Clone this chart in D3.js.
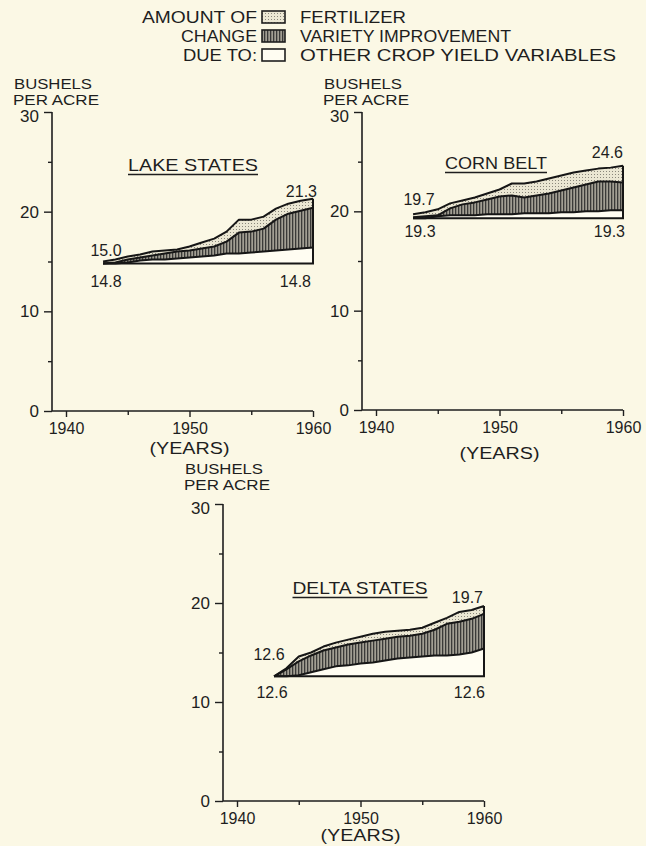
<!DOCTYPE html>
<html><head><meta charset="utf-8">
<script src="https://cdn.jsdelivr.net/npm/d3@7"></script>
<style>html,body{margin:0;padding:0;background:#fbf8e5;} text{font-family:"Liberation Sans",Arial,sans-serif;fill:#1e1e1e;}</style>
</head><body>
<svg id="chart" width="646" height="846"></svg>
<script>
// ---------------- DATA ----------------
const years = [1943,1944,1945,1946,1947,1948,1949,1950,1951,1952,1953,1954,1955,1956,1957,1958,1959,1960];
const legendLabels = ["FERTILIZER","VARIETY IMPROVEMENT","OTHER CROP YIELD VARIABLES"];
const legendLead = ["AMOUNT OF","CHANGE","DUE TO:"];
const yTicks = [0,10,20,30];
const yMinorTicks = [5,15,25];
const xTicks = [1940,1950,1960];
const xMinorTicks = [1945,1955];

// Lake States (cumulative level reached by each layer, bushels per acre)
const lakeBase = 14.8;
const lakeOther   = [14.8,14.8,14.9,15.1,15.2,15.2,15.3,15.4,15.5,15.6,15.8,15.8,15.9,16.0,16.1,16.2,16.3,16.4];
const lakeVariety = [14.8,14.9,15.2,15.4,15.6,15.8,16.0,16.1,16.3,16.5,17.0,17.9,18.0,18.3,19.2,19.8,20.1,20.4];
const lakeTotal   = [15.0,15.2,15.5,15.7,16.0,16.1,16.2,16.5,16.9,17.3,18.0,19.2,19.2,19.5,20.3,20.8,21.1,21.3];

// Corn Belt
const cornBase = 19.3;
const cornOther   = [19.3,19.3,19.5,19.6,19.6,19.6,19.7,19.7,19.7,19.8,19.8,19.8,19.9,19.9,20.0,20.0,20.1,20.1];
const cornVariety = [19.4,19.5,19.6,20.3,20.7,20.9,21.2,21.5,21.6,21.4,21.6,21.8,22.1,22.4,22.7,23.0,23.0,22.9];
const cornTotal   = [19.7,19.9,20.2,20.8,21.1,21.4,21.8,22.2,22.8,22.8,23.0,23.3,23.6,23.9,24.1,24.3,24.4,24.6];

// Delta States
const deltaBase = 12.6;
const deltaOther   = [12.6,12.6,12.7,13.0,13.3,13.6,13.7,13.9,14.0,14.2,14.4,14.5,14.6,14.7,14.7,14.8,15.0,15.4];
const deltaVariety = [12.6,13.3,14.1,14.7,15.2,15.5,15.8,16.0,16.2,16.4,16.6,16.7,16.9,17.3,17.9,18.1,18.4,18.9];
const deltaTotal   = [12.6,13.4,14.6,15.0,15.6,16.0,16.3,16.6,16.9,17.1,17.2,17.3,17.5,18.0,18.5,19.1,19.3,19.7];

// ---------------- LAYOUT ----------------
const panels = [
  {title:"LAKE STATES", base:lakeBase, other:lakeOther, variety:lakeVariety, total:lakeTotal,
   ox:52, oy:411, h:299, tx:193, ty:171, tw:130, yearsY:454, bY:89, pY:105,
   lab:{st:[3,-6], sb:[3,23], eb:[-2,23], et:[4,-2]}},
  {title:"CORN BELT", base:cornBase, other:cornOther, variety:cornVariety, total:cornTotal,
   ox:362, oy:410, h:298, tx:496, ty:169, tw:102, yearsY:459, bY:89, pY:105,
   lab:{st:[6,-9], sb:[7,19], eb:[2,19], et:[0,-8]}},
  {title:"DELTA STATES", base:deltaBase, other:deltaOther, variety:deltaVariety, total:deltaTotal,
   ox:223, oy:801, h:297, tx:360, ty:594, tw:135, yearsY:841, bY:474, pY:490,
   lab:{st:[-5,-16], sb:[-2,22], eb:[1,22], et:[-1,-3]}}
];
const PW = 261; // axis length to 1960

const svg = d3.select("#chart");
svg.append("rect").attr("width",646).attr("height",846).attr("fill","#fbf8e5");

const defs = svg.append("defs");
const vh = defs.append("pattern").attr("id","vhatch").attr("width",3).attr("height",4).attr("patternUnits","userSpaceOnUse");
vh.append("rect").attr("width",3).attr("height",4).attr("fill","#a29f93");
vh.append("rect").attr("x",0).attr("width",1.3).attr("height",4).attr("fill","#3a3a38");
const dp = defs.append("pattern").attr("id","dots").attr("width",3).attr("height",3).attr("patternUnits","userSpaceOnUse");
dp.append("rect").attr("width",3).attr("height",3).attr("fill","#ebe7d3");
dp.append("rect").attr("x",1).attr("y",1).attr("width",1).attr("height",1).attr("fill","#8a877b");

const fills = ["url(#dots)","url(#vhatch)","#fffdf2"];

// ---------------- LEGEND ----------------
const lg = svg.append("g");
const leadW = [115,76,74];
const labW = [106,211,316];
legendLabels.forEach((t,i)=>{
  const by = 23 + i*19;
  lg.append("text").attr("x",257).attr("y",by).attr("text-anchor","end")
    .attr("font-size",16).attr("textLength",leadW[i]).attr("lengthAdjust","spacingAndGlyphs").text(legendLead[i]);
  lg.append("rect").attr("x",262).attr("y",by-12).attr("width",23).attr("height",12)
    .attr("fill",fills[i]).attr("stroke","#1e1e1e").attr("stroke-width",1.6);
  lg.append("text").attr("x",300).attr("y",by).attr("font-size",16)
    .attr("textLength",labW[i]).attr("lengthAdjust","spacingAndGlyphs").text(t);
});

const fmt = d3.format(".1f");

panels.forEach(p=>{
  const g = svg.append("g").attr("transform",`translate(${p.ox},${p.oy})`);
  const x = d3.scaleLinear().domain([1940,1960]).range([14,PW]);
  const y = d3.scaleLinear().domain([0,30]).range([0,-p.h]);

  const rows = years.map((yr,i)=>({yr, other:p.other[i], variety:p.variety[i], total:p.total[i]}));

  // areas
  const aOther = d3.area().x(d=>x(d.yr)).y0(y(p.base)).y1(d=>y(d.other));
  const aVar = d3.area().x(d=>x(d.yr)).y0(d=>y(d.other)).y1(d=>y(d.variety));
  const aFert = d3.area().x(d=>x(d.yr)).y0(d=>y(d.variety)).y1(d=>y(d.total));
  g.append("path").datum(rows).attr("d",aOther).attr("fill","#fffdf2");
  g.append("path").datum(rows).attr("d",aFert).attr("fill","url(#dots)");
  g.append("path").datum(rows).attr("d",aVar).attr("fill","url(#vhatch)");

  const ln = k => d3.line().x(d=>x(d.yr)).y(d=>y(d[k]));
  ["other","variety","total"].forEach(k=>{
    g.append("path").datum(rows).attr("d",ln(k)).attr("fill","none")
      .attr("stroke","#161616").attr("stroke-width",2).attr("stroke-linejoin","round");
  });
  // baseline & right edge
  const last = rows[rows.length-1];
  g.append("path").attr("d",`M${x(years[0])},${y(p.base)}H${x(last.yr)}V${y(last.total)}`)
    .attr("fill","none").attr("stroke","#161616").attr("stroke-width",2);

  // axes
  const yAx = g.append("g").call(d3.axisLeft(y).tickValues(yTicks).tickSize(8).tickPadding(5).tickSizeOuter(0));
  const yAxm = g.append("g").call(d3.axisLeft(y).tickValues(yMinorTicks).tickSize(4).tickFormat("").tickSizeOuter(0));
  const xAx = g.append("g").call(d3.axisBottom(x).tickValues(xTicks).tickSize(6).tickPadding(6).tickFormat(d3.format("d")).tickSizeOuter(0));
  const xAxm = g.append("g").call(d3.axisBottom(x).tickValues(xMinorTicks).tickSize(4).tickFormat("").tickSizeOuter(0));
  [yAx,yAxm,xAx,xAxm].forEach(a=>{
    a.select(".domain").remove();
    a.selectAll("line").attr("stroke","#1e1e1e").attr("stroke-width",1.4);
    a.selectAll("text").attr("font-size",17).attr("font-family","Liberation Sans, Arial, sans-serif").attr("fill","#1e1e1e");
  });
  xAx.selectAll("text").attr("font-size",16);
  // push the top tick label a little below its tick, as in the original lettering
  yAx.selectAll(".tick").filter(d=>d===30).select("text").attr("dy","0.55em");
  g.append("path").attr("d",`M0,${y(30)}V0H${x(1960)}`).attr("fill","none").attr("stroke","#1e1e1e").attr("stroke-width",1.6);

  // axis titles
  svg.append("text").attr("x",p.ox-38).attr("y",p.bY).attr("font-size",14).attr("textLength",78).attr("lengthAdjust","spacingAndGlyphs").text("BUSHELS");
  svg.append("text").attr("x",p.ox-39).attr("y",p.pY).attr("font-size",14).attr("textLength",86).attr("lengthAdjust","spacingAndGlyphs").text("PER ACRE");
  svg.append("text").attr("x",p.ox+x(1950)).attr("y",p.yearsY).attr("text-anchor","middle")
    .attr("font-size",16).attr("textLength",80).attr("lengthAdjust","spacingAndGlyphs").text("(YEARS)");

  // title
  svg.append("text").attr("x",p.tx).attr("y",p.ty).attr("text-anchor","middle").attr("font-size",17)
    .attr("textLength",p.tw).attr("lengthAdjust","spacingAndGlyphs").text(p.title);
  svg.append("line").attr("x1",p.tx-p.tw/2).attr("x2",p.tx+p.tw/2).attr("y1",p.ty+3.5).attr("y2",p.ty+3.5)
    .attr("stroke","#1e1e1e").attr("stroke-width",1.5);

  // value labels
  const L = p.lab;
  const first = rows[0];
  g.append("text").attr("x",x(first.yr)+L.st[0]).attr("y",y(first.total)+L.st[1]).attr("text-anchor","middle").attr("font-size",16).text(fmt(first.total));
  g.append("text").attr("x",x(first.yr)+L.sb[0]).attr("y",y(p.base)+L.sb[1]).attr("text-anchor","middle").attr("font-size",16).text(fmt(p.base));
  g.append("text").attr("x",x(last.yr)+L.eb[0]).attr("y",y(p.base)+L.eb[1]).attr("text-anchor","end").attr("font-size",16).text(fmt(p.base));
  g.append("text").attr("x",x(last.yr)+L.et[0]).attr("y",y(last.total)+L.et[1]).attr("text-anchor","end").attr("font-size",16).text(fmt(last.total));
});
</script>
</body></html>
